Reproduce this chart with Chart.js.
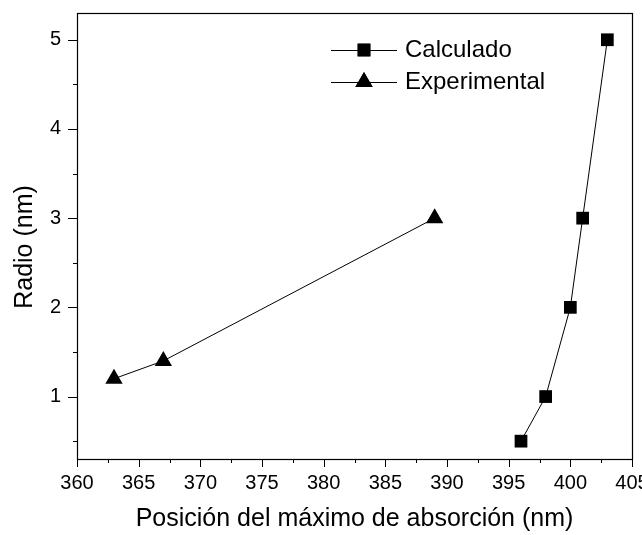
<!DOCTYPE html>
<html>
<head>
<meta charset="utf-8">
<script src="https://cdn.jsdelivr.net/npm/chart.js@4"></script>
<style>
  body { margin: 0; background: #fff; }
  #wrap { width: 642px; height: 535px; }
</style>
</head>
<body>
<div id="wrap"><canvas id="chart"></canvas></div>
<script>
// data
var calcX = [396, 398, 400, 401, 403];
var calcY = [0.5, 1, 2, 3, 5];
var expX = [363, 367, 389];
var expY = [1.2, 1.4, 3];
var xMajorTicks = [360, 365, 370, 375, 380, 385, 390, 395, 400, 405];
var yMajorTicks = [1, 2, 3, 4, 5];
var seriesNames = ['Calculado', 'Experimental'];

var FONT = "'Liberation Sans', Arial, sans-serif";

function toPoints(xs, ys) {
    return xs.map(function (x, i) { return { x: x, y: ys[i] }; });
}

// minor ticks sit halfway between majors
function withMinors(majors, extraBelow) {
    var out = [];
    if (extraBelow) out.push(majors[0] - (majors[1] - majors[0]) / 2);
    for (var i = 0; i < majors.length; i++) {
        out.push(majors[i]);
        if (i < majors.length - 1) out.push((majors[i] + majors[i + 1]) / 2);
    }
    return out;
}
var xAllTicks = withMinors(xMajorTicks, false);
var yAllTicks = withMinors(yMajorTicks, true);

// frame, tick marks, legend and y title
var decorations = {
    id: 'decorations',
    afterDraw: function (chart) {
        var ctx = chart.ctx;
        var a = chart.chartArea;
        var xs = chart.scales.x, ys = chart.scales.y;
        ctx.save();
        ctx.strokeStyle = '#000';
        ctx.lineWidth = 1.2;
        ctx.strokeRect(Math.round(a.left) + 0.5, Math.round(a.top) + 0.5,
            Math.round(a.right - a.left), Math.round(a.bottom - a.top));

        ctx.lineWidth = 1;
        ctx.beginPath();
        xAllTicks.forEach(function (v) {
            var px = Math.round(xs.getPixelForValue(v)) + 0.5;
            var len = xMajorTicks.indexOf(v) >= 0 ? 8 : 4;
            ctx.moveTo(px, a.bottom);
            ctx.lineTo(px, a.bottom + len);
        });
        yAllTicks.forEach(function (v) {
            var py = Math.round(ys.getPixelForValue(v)) + 0.5;
            var len = yMajorTicks.indexOf(v) >= 0 ? 9 : 4;
            ctx.moveTo(a.left, py);
            ctx.lineTo(a.left - len, py);
        });
        ctx.stroke();

        // legend
        var rows = [{ name: seriesNames[0], style: 'rect', r: 9, y: 50 },
                    { name: seriesNames[1], style: 'triangle', r: 10, y: 82 }];
        rows.forEach(function (row) {
            ctx.strokeStyle = '#000';
            ctx.lineWidth = 1;
            ctx.beginPath();
            ctx.moveTo(331, row.y + 0.5);
            ctx.lineTo(397, row.y + 0.5);
            ctx.stroke();
            ctx.fillStyle = '#000';
            Chart.helpers.drawPoint(ctx, { pointStyle: row.style, radius: row.r, borderWidth: 0 }, 364, row.y);
            ctx.fill();
            ctx.font = '24px ' + FONT;
            ctx.textAlign = 'left';
            ctx.textBaseline = 'middle';
            ctx.fillText(row.name, 405, row.y);
        });

        // y axis title
        ctx.translate(25, 247);
        ctx.rotate(-Math.PI / 2);
        ctx.font = '25px ' + FONT;
        ctx.textAlign = 'center';
        ctx.textBaseline = 'middle';
        ctx.fillText('Radio (nm)', 0, 0);
        ctx.restore();
    }
};

var ctx = document.getElementById('chart').getContext('2d');
var chart = new Chart(ctx, {
    type: 'scatter',
    data: {
        datasets: [{
            label: seriesNames[0],
            data: toPoints(calcX, calcY),
            showLine: true,
            borderColor: '#000',
            backgroundColor: '#000',
            borderWidth: 1,
            pointStyle: 'rect',
            pointRadius: 9,
            pointBorderWidth: 0
        }, {
            label: seriesNames[1],
            data: toPoints(expX, expY),
            showLine: true,
            borderColor: '#000',
            backgroundColor: '#000',
            borderWidth: 1,
            pointStyle: 'triangle',
            pointRadius: 10,
            pointBorderWidth: 0
        }]
    },
    options: {
        responsive: true,
        maintainAspectRatio: false,
        animation: false,
        layout: { padding: { left: 0, right: 10, top: 13, bottom: 0 } },
        plugins: {
            legend: { display: false },
            tooltip: { enabled: false }
        },
        scales: {
            x: {
                type: 'linear',
                min: 360,
                max: 405,
                afterBuildTicks: function (scale) {
                    scale.ticks = xAllTicks.map(function (v) { return { value: v }; });
                },
                afterFit: function (scale) {
                    scale.height = 76;
                    scale.paddingLeft = 0;
                    scale.paddingRight = 0;
                },
                ticks: {
                    autoSkip: false,
                    maxRotation: 0,
                    padding: 4,
                    color: '#000',
                    font: { family: FONT, size: 20 },
                    callback: function (v) { return xMajorTicks.indexOf(v) >= 0 ? String(v) : ''; }
                },
                grid: { drawOnChartArea: false, tickLength: 8, tickColor: 'transparent', color: 'transparent' },
                border: { display: false },
                title: {
                    display: true,
                    text: 'Posición del máximo de absorción (nm)',
                    color: '#000',
                    font: { family: FONT, size: 25 },
                    padding: { top: 0, bottom: 1 }
                }
            },
            y: {
                type: 'linear',
                min: 0.3,
                max: 5.3,
                afterBuildTicks: function (scale) {
                    scale.ticks = yAllTicks.map(function (v) { return { value: v }; });
                },
                afterFit: function (scale) {
                    scale.width = 77;
                    scale.paddingTop = 0;
                    scale.paddingBottom = 0;
                },
                ticks: {
                    autoSkip: false,
                    padding: 7,
                    color: '#000',
                    font: { family: FONT, size: 20 },
                    callback: function (v) { return yMajorTicks.indexOf(v) >= 0 ? String(v) : ''; }
                },
                grid: { drawOnChartArea: false, tickLength: 9, tickColor: 'transparent', color: 'transparent' },
                border: { display: false }
            }
        }
    },
    plugins: [decorations]
});
</script>
</body>
</html>
